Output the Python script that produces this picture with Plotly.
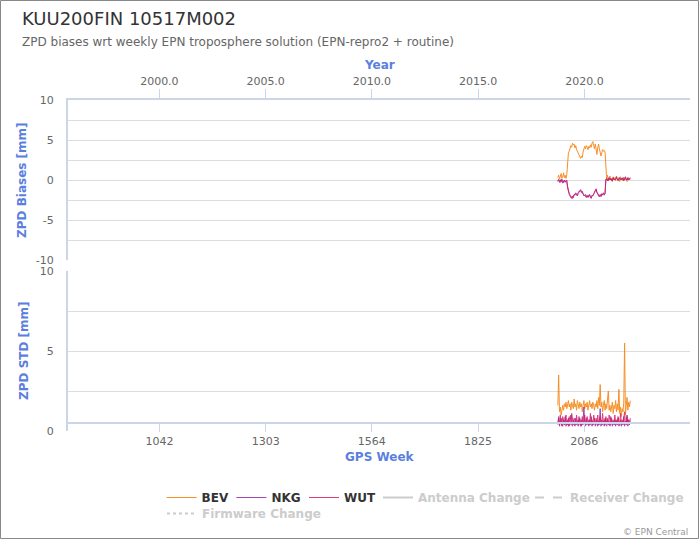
import plotly.graph_objects as go

# ---------------- data ----------------
weeks = list(range(2021, 2200, 2))

bev_bias = [0.3, 0.6, 0.1, 0.5, 0.8, 0.2, 0.4, 0.9, 0.3, 0.6, 0.2, 0.7,
            2.9, 3.4, 3.6, 3.9, 4.3, 4.1, 4.6, 4.4, 4.5, 4.0,
            4.3, 3.8, 3.6, 3.4, 3.1, 2.9, 2.7, 3.0, 2.8, 3.5,
            3.9, 4.2, 3.9, 4.3, 4.1, 3.8, 4.2, 4.0, 4.4, 4.1,
            4.6, 4.8, 4.3, 3.9, 4.5, 3.6, 3.2, 4.0, 4.5, 3.9,
            3.5, 3.0, 3.4, 3.8, 3.6, 3.7, 3.5,
            0.4, 0.1, 0.6, -0.1, 0.3, 0.5, 0.0, 0.2, -0.2, 0.4,
            0.1, 0.3, -0.1, 0.5, 0.2, 0.0, 0.3, -0.2, 0.4, 0.1,
            0.2, -0.1, 0.3, 0.0, 0.4, 0.1, -0.2, 0.3, 0.0, 0.2, 0.1]

nkg_bias = [-0.1, 0.1, -0.3, 0.0, -0.2, 0.1, -0.4, -0.1, 0.0, -0.3, -0.2, 0.0,
            -0.8, -1.4, -1.7, -1.9, -2.1, -2.3, -2.0, -2.2, -1.9, -1.8,
            -1.6, -1.8, -2.0, -1.7, -1.5, -1.3, -1.2, -1.5, -1.4, -1.7,
            -1.9, -2.0, -1.8, -2.1, -1.9, -2.2, -2.0, -1.8, -2.1, -2.3,
            -1.9, -2.0, -1.7, -1.6, -1.3, -1.1, -1.5, -1.8, -1.9, -2.1,
            -1.8, -2.0, -1.7, -1.9, -1.6, -1.8, -1.7,
            0.0, 0.2, -0.1, 0.1, 0.3, 0.0, 0.2, -0.1, 0.1, 0.3,
            0.1, 0.0, 0.2, 0.4, 0.1, -0.1, 0.2, 0.3, 0.0, 0.2,
            0.1, 0.3, -0.1, 0.2, 0.4, 0.1, 0.0, 0.3, 0.2, 0.1, 0.3]

wut_bias = [-0.2, 0.0, -0.1, -0.3, 0.1, -0.2, -0.1, -0.3, 0.0, -0.2, -0.1, -0.3,
            -1.0, -1.5, -1.8, -2.0, -2.2, -2.1, -2.3, -2.0, -1.8, -1.9,
            -1.7, -1.9, -1.8, -1.6, -1.4, -1.4, -1.3, -1.6, -1.5, -1.8,
            -2.0, -1.9, -2.0, -2.2, -2.0, -2.1, -1.9, -1.9, -2.2, -2.2,
            -2.0, -1.9, -1.8, -1.5, -1.4, -1.2, -1.6, -1.7, -2.0, -2.0,
            -1.9, -2.1, -1.8, -1.8, -1.7, -1.9, -1.6,
            0.1, 0.0, 0.1, -0.1, 0.2, 0.1, 0.0, 0.1, -0.1, 0.2,
            0.0, 0.1, 0.1, 0.2, 0.0, 0.0, 0.1, 0.2, 0.1, 0.0,
            0.2, 0.1, 0.0, 0.1, 0.2, 0.0, 0.1, 0.2, 0.0, 0.1, 0.2]

bev_std = [1.6, 3.5, 1.2, 1.5, 1.0, 1.4, 1.6, 1.3, 1.7, 1.5, 1.8, 1.4,
           1.6, 1.9, 1.5, 1.7, 1.3, 1.8, 1.6, 1.4, 2.0, 1.5,
           1.7, 1.3, 1.9, 1.6, 1.4, 1.8, 1.5, 1.7, 1.2, 1.6,
           1.9, 1.4, 1.7, 1.5, 1.8, 1.3, 1.6, 1.9, 1.5, 1.7,
           1.4, 1.8, 1.6, 1.3, 1.7, 1.5, 1.9, 1.4, 2.1, 1.6,
           2.9, 1.5, 1.8, 1.2, 1.6, 1.9, 1.3, 1.7, 1.4, 1.8,
           2.5, 1.3, 1.6, 1.2, 1.5, 1.8, 1.1, 1.6, 1.4, 1.9,
           1.2, 1.7, 1.3, 2.6, 1.1, 1.5, 0.9, 1.4, 1.2, 1.8,
           5.5, 1.0, 1.6, 2.1, 1.3, 1.8, 1.5, 1.9]

nkg_std = [0.4, 0.9, 0.3, 0.6, 0.8, 0.4, 0.3, 0.7, 0.4, 0.9, 0.3, 0.6,
           0.4, 0.8, 0.3, 0.6, 1.0, 0.4, 0.3, 0.7, 0.5, 0.3,
           0.8, 0.4, 0.6, 0.3, 0.9, 0.4, 0.3, 0.7, 0.4, 0.6,
           1.5, 0.4, 0.3, 0.8, 0.4, 0.6, 0.3, 0.7, 0.4, 0.9,
           0.3, 0.6, 0.4, 0.8, 0.3, 0.4, 0.7, 0.3, 0.6, 0.4,
           1.4, 0.3, 0.7, 0.4, 0.6, 0.3, 0.8, 0.4, 0.3, 0.7,
           0.4, 0.6, 0.3, 0.9, 0.4, 0.3, 0.6, 0.4, 0.7, 0.3,
           0.6, 0.4, 0.8, 0.3, 0.4, 0.7, 0.3, 0.6, 0.4, 0.9,
           0.3, 0.6, 0.4, 1.0, 0.3, 0.7, 0.4, 0.6]

wut_std = [0.5, 0.8, 0.4, 1.0, 0.5, 0.3, 0.9, 0.5, 0.4, 0.7, 1.0, 0.4,
           0.7, 0.3, 0.9, 0.5, 0.4, 1.1, 0.5, 0.4, 0.8, 0.5,
           0.4, 1.0, 0.5, 0.7, 0.4, 0.8, 0.5, 0.3, 0.9, 0.4,
           0.7, 1.0, 0.5, 0.4, 0.9, 0.5, 0.7, 0.4, 1.1, 0.5,
           0.7, 0.4, 1.0, 0.5, 0.4, 0.8, 0.5, 1.0, 0.4, 0.7,
           0.9, 0.5, 0.4, 1.1, 0.5, 0.7, 0.4, 0.9, 0.5, 0.8,
           0.4, 1.0, 0.5, 0.4, 0.8, 0.5, 0.7, 0.4, 1.0, 0.5,
           0.7, 0.4, 0.9, 0.5, 0.4, 1.1, 0.5, 0.7, 0.4, 0.8,
           1.2, 0.5, 0.4, 0.9, 0.5, 0.7, 0.4, 0.8]

week_ticks = [1042, 1303, 1564, 1825, 2086]
year_ticks = [2000, 2005, 2010, 2015, 2020]
year_labels = ["2000.0", "2005.0", "2010.0", "2015.0", "2020.0"]
bias_ticks = [-10, -7.5, -5, -2.5, 0, 2.5, 5, 7.5, 10]
bias_labels = ["-10", "", "-5", "", "0", "", "5", "", "10"]
std_ticks = [0, 2.5, 5, 7.5, 10]
std_labels = ["0", "", "5", "", "10"]

series_names = ["BEV", "NKG", "WUT"]
series_colors = ["#f57c00", "#8e24aa", "#d81b60"]
bias_data = [bev_bias, nkg_bias, wut_bias]
std_data = [bev_std, nkg_std, wut_std]
change_names = ["Antenna Change", "Receiver Change", "Firmware Change"]
change_dashes = ["solid", "dash", "dot"]

for arr in bias_data + std_data:
    assert len(arr) == len(weeks), len(arr)

# ---------------- geometry ----------------
W = 700
H = 540
L, R, T, B = 68, 10, 100, 109
PW = W - L - R
PH = H - T - B
week_range = [817.4, 2345.7]
year_range = [1995.70, 2024.97]
FONT = "DejaVu Sans"
BLUE = "#5b7fe0"
AXC = "#ccd6eb"
GRID = "#dddddd"


def px(x):
    return (x - L) / PW


def py(y):
    return (T + PH - y) / PH


# legend entry placement (left edge of each entry box, top of row)
legend_ids = ["legend", "legend2", "legend3", "legend4", "legend5", "legend6"]
legend_pos = [(161.6, 483), (231.4, 483), (304, 483), (378, 483), (530, 483),
              (162, 499)]

fig = go.Figure()

for i, (name, col, vals) in enumerate(zip(series_names, series_colors, bias_data)):
    fig.add_trace(go.Scatter(x=weeks, y=vals, mode="lines", xaxis="x", yaxis="y",
                             line=dict(color=col, width=1), opacity=0.85,
                             name="<b>%s</b>" % name, legendgroup=name,
                             legend=legend_ids[i]))
for name, col, vals in zip(series_names, series_colors, std_data):
    fig.add_trace(go.Scatter(x=weeks, y=vals, mode="lines", xaxis="x2", yaxis="y2",
                             line=dict(color=col, width=1), opacity=0.85,
                             name=name, legendgroup=name, showlegend=False))

for j, (nm, dash) in enumerate(zip(change_names, change_dashes)):
    fig.add_trace(go.Scatter(x=[None], y=[None], mode="lines", xaxis="x2", yaxis="y2",
                             line=dict(color="#cccccc", width=2, dash=dash),
                             legend=legend_ids[3 + j],
                             name='<b><span style="color:#cccccc">%s</span></b>' % nm))

# dummy trace for the top year axis
fig.add_trace(go.Scatter(x=year_range, y=[None, None], xaxis="x3", yaxis="y",
                         mode="lines", showlegend=False, hoverinfo="skip"))

top_dom = [py(260), 1.0]
bot_dom = [0.0, py(271)]

legend_common = dict(orientation="h", xanchor="left", yanchor="top",
                     font=dict(family=FONT, size=12, color="#333333"),
                     bgcolor="rgba(0,0,0,0)", itemclick=False,
                     itemdoubleclick=False, traceorder="normal")

legends = {lid: dict(x=px(lx), y=py(ly), **legend_common)
           for lid, (lx, ly) in zip(legend_ids, legend_pos)}

fig.update_layout(
    width=W, height=H,
    margin=dict(l=L, r=R, t=T, b=B, autoexpand=False),
    paper_bgcolor="white", plot_bgcolor="white",
    font=dict(family=FONT, color="#666666", size=11),
    showlegend=True,
    hovermode=False,
    xaxis=dict(domain=[0, 1], range=week_range, anchor="y", showticklabels=False,
               showline=False, showgrid=False, zeroline=False, ticks=""),
    xaxis2=dict(domain=[0, 1], range=week_range, anchor="free", position=py(423),
                tickvals=week_ticks, ticks="outside", ticklen=8, tickcolor=AXC,
                tickwidth=1, showline=True, linecolor=AXC, linewidth=2,
                showgrid=False, zeroline=False,
                tickfont=dict(family=FONT, size=11, color="#666666")),
    xaxis3=dict(overlaying="x", side="top", anchor="y", range=year_range,
                tickvals=year_ticks, ticktext=year_labels, ticks="outside",
                ticklen=9, tickcolor=AXC, tickwidth=1, showline=True,
                linecolor=AXC, linewidth=2, showgrid=False, zeroline=False,
                tickfont=dict(family=FONT, size=11, color="#666666")),
    yaxis=dict(domain=top_dom, range=[-10, 10], anchor="x", tickvals=bias_ticks,
               ticktext=bias_labels, showgrid=True, gridcolor=GRID, gridwidth=1,
               zeroline=False, showline=True, linecolor=AXC, linewidth=2, ticks="",
               ticklabelstandoff=10,
               tickfont=dict(family=FONT, size=11, color="#666666")),
    yaxis2=dict(domain=bot_dom, range=[0, 10], anchor="x2", tickvals=std_ticks,
                ticktext=std_labels, showgrid=True, gridcolor=GRID, gridwidth=1,
                zeroline=False, showline=True, linecolor=AXC, linewidth=2, ticks="",
                ticklabelstandoff=10,
                tickfont=dict(family=FONT, size=11, color="#666666")),
    **legends,
)

ann = [
    dict(text="KUU200FIN 10517M002", x=px(20), y=py(18), xanchor="left",
         yanchor="middle", font=dict(family=FONT, size=18, color="#333333")),
    dict(text="ZPD biases wrt weekly EPN troposphere solution (EPN-repro2 + routine)",
         x=px(20), y=py(41.5), xanchor="left", yanchor="middle",
         font=dict(family=FONT, size=12, color="#666666")),
    dict(text="<b>Year</b>", x=px(379), y=py(65.5), xanchor="center", yanchor="middle",
         font=dict(family=FONT, size=12, color=BLUE)),
    dict(text="<b>GPS Week</b>", x=px(380), y=py(457.3), xanchor="center",
         yanchor="middle", font=dict(family=FONT, size=12, color=BLUE)),
    dict(text="<b>ZPD Biases [mm]</b>", x=px(22), y=py(180), xanchor="center",
         yanchor="middle", textangle=-90, font=dict(family=FONT, size=12, color=BLUE)),
    dict(text="<b>ZPD STD [mm]</b>", x=px(24), y=py(351), xanchor="center",
         yanchor="middle", textangle=-90, font=dict(family=FONT, size=12, color=BLUE)),
    dict(text="© EPN Central", x=px(690), y=py(531.5), xanchor="right",
         yanchor="middle", font=dict(family=FONT, size=9, color="#999999")),
]
for a in ann:
    a.update(xref="paper", yref="paper", showarrow=False)
fig.update_layout(annotations=ann)

fig.add_shape(type="rect", xref="paper", yref="paper",
              x0=px(0.5), x1=px(698.5), y0=py(538.5), y1=py(0.5),
              line=dict(color="#888888", width=1), fillcolor="rgba(0,0,0,0)",
              layer="above")

fig.write_html("out.html",
               config={"displayModeBar": False},
               post_script="document.body.style.margin='0px';"
                           "document.body.style.padding='0px';")
